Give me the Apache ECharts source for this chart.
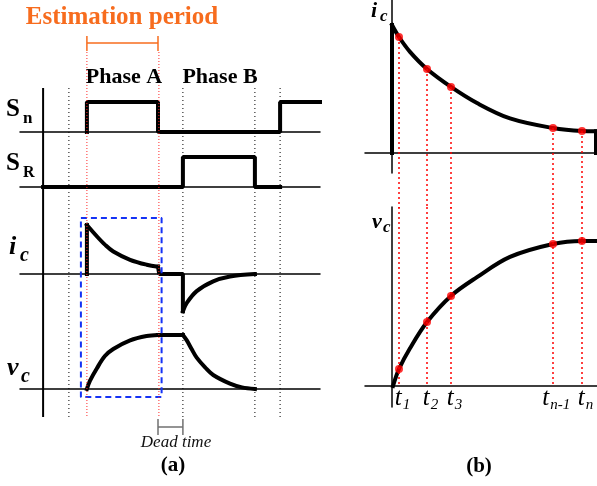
<!DOCTYPE html>
<html>
<head>
<meta charset="utf-8">
<title>Estimation period</title>
<script src="https://cdn.jsdelivr.net/npm/echarts@6/dist/echarts.min.js"></script>
</head>
<body style="margin:0;background:#fff">
<div id="main" style="width:597px;height:486px"></div>
<script>
// ---- panel (a): time runs 0..100 across the panel ----
var snWave = [[22.3,0],[22.3,1],[46,1],[46,0],[86.7,0],[86.7,1],[100,1]];
var srWave = [[7.7,0],[54.3,0],[54.3,1],[78.3,1],[78.3,0],[86.7,0]];
var icRise = [[22.3,0],[22.3,1]];
var icDecay = [[22.3,1],[25.6,0.77],[28.3,0.6],[31.1,0.46],[36.7,0.29],[42.2,0.19],[46,0.15]];
var icDead = [[46,0.15],[46.4,0.15],[46.4,0],[54.3,0],[54.3,-0.76]];
var icRecover = [[54.3,-0.76],[55.6,-0.59],[58.9,-0.35],[64.4,-0.15],[70,-0.05],[78.3,0]];
var vcRise = [[22.3,0],[23.3,0.15],[25.6,0.38],[28.3,0.61],[31.1,0.74],[36.7,0.9],[42.2,0.98],[46,1]];
var vcHold = [[46,1],[54.3,1]];
var vcFall = [[54.3,1],[55.6,0.9],[57.2,0.74],[58.9,0.58],[61.7,0.4],[64.4,0.26],[70,0.1],[74,0.03],[78.3,0]];
var markBlack = [16.3, 54.3, 78.3, 86.7];
var markRed = [22.3, 46.3];
var axisTimeA = 7.7;
var estWindow = [22.3, 46];
var deadWindow = [46, 54.3];
var boxWindow = [20.3, 47.2];

// ---- panel (b): sampled decay / rise ----
var sampleT = [0.07, 0.35, 0.59, 1.61, 1.90];
var icSample = [0.906, 0.656, 0.516, 0.195, 0.172];
var vcSample = [0.117, 0.441, 0.621, 0.979, 1.0];
var sampleLabels = ['1', '2', '3', 'n-1', 'n'];
var icCurveB = [[0,1],[0.07,0.906],[0.18,0.79],[0.35,0.656],[0.59,0.516],[0.85,0.39],[1.18,0.27],[1.61,0.195],[1.90,0.172],[2.04,0.17]];
var icEdgeL = [[0,0],[0,1]];
var icEdgeR = [[2.04,0.17],[2.04,0]];
var vcCurveB = [[0.01,0],[0.07,0.117],[0.18,0.26],[0.35,0.441],[0.59,0.621],[0.85,0.75],[1.18,0.89],[1.61,0.979],[1.90,1.0],[2.05,1.0]];

var SERIF = '"Liberation Serif", "DejaVu Serif", serif';
var ORANGE = '#F76C1E';

var myChart = echarts.init(document.getElementById('main'));

function grid(l, t, w, h) {
	return {left: l, top: t, width: w, height: h, outerBoundsMode: 'none'};
}
function xax(gi, min, max, line) {
	return {type: 'value', gridIndex: gi, min: min, max: max,
		axisLine: {show: line, onZero: true, lineStyle: {color: '#000', width: 1.5}},
		axisTick: {show: false}, axisLabel: {show: false}, splitLine: {show: false}};
}
function yax(gi, min, max, line, inv) {
	return {type: 'value', gridIndex: gi, min: min, max: max, inverse: !!inv,
		axisLine: {show: line, onZero: true, lineStyle: {color: '#000', width: 1.5}},
		axisTick: {show: false}, axisLabel: {show: false}, splitLine: {show: false}};
}
function trace(gi, data, smooth) {
	return {type: 'line', xAxisIndex: gi, yAxisIndex: gi, data: data, symbol: 'none',
		smooth: smooth ? 0.35 : false, clip: false, silent: true, z: 5,
		lineStyle: {color: '#000', width: 4, cap: 'square'}};
}
function seg(gi, data, color, width, type, z) {
	return {type: 'line', xAxisIndex: gi, yAxisIndex: gi, data: data, symbol: 'none',
		clip: false, silent: true, z: z || 10,
		lineStyle: {color: color, width: width, type: type}};
}

var series = [
	trace(0, snWave), trace(1, srWave),
	trace(2, icRise), trace(2, icDecay, true), trace(2, icDead), trace(2, icRecover, true),
	trace(3, vcRise, true), trace(3, vcHold), trace(3, vcFall, true),
	trace(5, icEdgeL), trace(5, icCurveB, true), trace(5, icEdgeR),
	trace(6, vcCurveB, true)
];

// overlay of panel (a): y runs 0..486 top to bottom
series.push(seg(4, [[axisTimeA, 88], [axisTimeA, 417]], '#000', 2, 'solid'));
markBlack.forEach(function (t) {
	series.push(seg(4, [[t, 88], [t, 417]], '#000', 1, [1, 3]));
});
markRed.forEach(function (t) {
	series.push(seg(4, [[t, 52], [t, 417]], '#ff2a2a', 1, [1, 2], 12));
});
series.push(seg(4, [[boxWindow[0], 218], [boxWindow[1], 218], [boxWindow[1], 397], [boxWindow[0], 397], [boxWindow[0], 218]], '#1432f5', 2, [6, 4], 11));
series.push(seg(4, [[estWindow[0], 43], [estWindow[1], 43]], ORANGE, 1.5, 'solid'));
series.push(seg(4, [[estWindow[0], 36], [estWindow[0], 51]], ORANGE, 1.5, 'solid'));
series.push(seg(4, [[estWindow[1], 36], [estWindow[1], 51]], ORANGE, 1.5, 'solid'));
series.push(seg(4, [[deadWindow[0], 427], [deadWindow[1], 427]], '#707070', 1.5, 'solid'));
series.push(seg(4, [[deadWindow[0], 419], [deadWindow[0], 435]], '#707070', 1.5, 'solid'));
series.push(seg(4, [[deadWindow[1], 419], [deadWindow[1], 435]], '#707070', 1.5, 'solid'));

// panel (b): sample lines and dots
sampleT.forEach(function (t, i) {
	series.push(seg(5, [[t, icSample[i]], [t, -0.43]], '#ff0000', 1.5, [2, 3]));
	series.push(seg(6, [[t, 1.234], [t, 0]], '#ff0000', 1.5, [2, 3]));
});
series.push({type: 'scatter', xAxisIndex: 5, yAxisIndex: 5, symbolSize: 8, z: 20, silent: true,
	itemStyle: {color: '#ff0000'},
	data: sampleT.map(function (t, i) { return [t, icSample[i]]; })});
series.push({type: 'scatter', xAxisIndex: 6, yAxisIndex: 6, symbolSize: 8, z: 20, silent: true,
	itemStyle: {color: '#ff0000'},
	data: sampleT.map(function (t, i) { return [t, vcSample[i]]; })});

var option = {
	backgroundColor: '#fff',
	animation: false,
	grid: [grid(20, 102, 300, 30), grid(20, 157, 300, 30), grid(20, 225, 300, 98), grid(20, 335, 300, 54),
		grid(20, 0, 300, 486), grid(365, 0, 232, 173), grid(365, 207, 232, 200)],
	xAxis: [xax(0, 0, 100, true), xax(1, 0, 100, true), xax(2, 0, 100, true), xax(3, 0, 100, true),
		xax(4, 0, 100, false), xax(5, -0.27, 2.05, true), xax(6, -0.27, 2.05, true)],
	yAxis: [yax(0, 0, 1, false), yax(1, 0, 1, false), yax(2, -1, 1, false), yax(3, 0, 1, false),
		yax(4, 0, 486, false, true), yax(5, -0.156, 1.195, true), yax(6, -0.145, 1.234, true)],
	series: series
};
myChart.setOption(option);

function txt(x, y, s, font, color, align) {
	return {type: 'text', x: x, y: y, z: 30, silent: true,
		style: {text: s, font: font, fill: color || '#000',
			align: align || 'left', textAlign: align || 'left',
			verticalAlign: 'middle', textVerticalAlign: 'middle'}};
}
var texts = [
	txt(122, 18, 'Estimation period', 'bold 25px ' + SERIF, ORANGE, 'center'),
	txt(124, 77, 'Phase A', 'bold 22px ' + SERIF, '#000', 'center'),
	txt(220, 77, 'Phase B', 'bold 22px ' + SERIF, '#000', 'center'),
	txt(6, 110, 'S', 'bold 25px ' + SERIF), txt(23, 119, 'n', 'bold 17px ' + SERIF),
	txt(6, 164, 'S', 'bold 25px ' + SERIF), txt(23, 173, 'R', 'bold 16px ' + SERIF),
	txt(9, 247, 'i', 'italic bold 26px ' + SERIF), txt(20, 256, 'c', 'italic bold 20px ' + SERIF),
	txt(7, 368, 'v', 'italic bold 26px ' + SERIF), txt(21, 377, 'c', 'italic bold 20px ' + SERIF),
	txt(176, 443, 'Dead time', 'italic 17px ' + SERIF, '#111', 'center'),
	txt(173, 466, '(a)', 'bold 21px ' + SERIF, '#000', 'center'),
	txt(479, 467, '(b)', 'bold 21px ' + SERIF, '#000', 'center'),
	txt(371, 11, 'i', 'italic bold 22px ' + SERIF), txt(380, 17, 'c', 'italic bold 17px ' + SERIF),
	txt(372, 222, 'v', 'italic bold 22px ' + SERIF), txt(383, 228, 'c', 'italic bold 17px ' + SERIF)
];
sampleT.forEach(function (t, i) {
	var p = myChart.convertToPixel({gridIndex: 6}, [t, 0]);
	var w = 8 + sampleLabels[i].length * 6.5;
	var left = p[0] + 3 - w / 2;
	texts.push(txt(left, 398, 't', 'italic 25px ' + SERIF));
	texts.push(txt(left + 8, 405, sampleLabels[i], 'italic 15px ' + SERIF));
});
myChart.setOption({graphic: {elements: texts}});
</script>
</body>
</html>
